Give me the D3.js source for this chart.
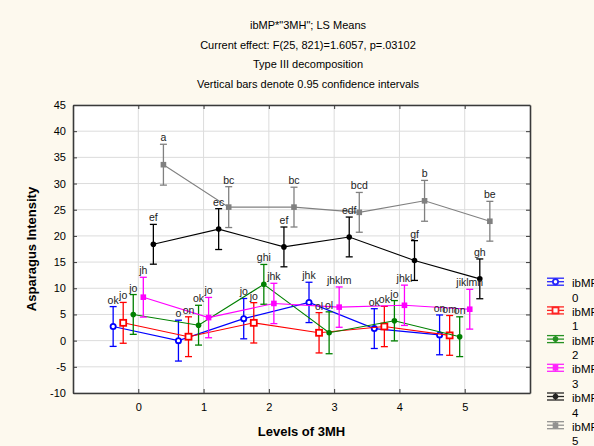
<!DOCTYPE html>
<html lang="en">
  <head>
    <meta charset="UTF-8" />
    <title>ibMP*3MH LS Means</title>
    <style>
      body {
        margin: 0;
        background-color: #fdf9ee;
      }
      svg {
        display: block;
        font-family: Arial, "Liberation Sans", sans-serif;
      }
    </style>
  </head>
  <body>
    <div id="chart"></div>

    <script src="https://d3js.org/d3.v7.min.js"></script>
    <script>
      // levels of 3MH on the x axis
      const levels = [0, 1, 2, 3, 4, 5];
      const seriesNames = ["0", "1", "2", "3", "4", "5"];
      const seriesColors = ["#0000ff", "#ff0000", "#008000", "#ff00ff", "#000000", "#808080"];
      const seriesShapes = ["circleOpen", "squareOpen", "circle", "square", "circle", "square"];

      // LS means per ibMP level
      const means = [
        [2.7, 0.0, 4.2, 7.3, 2.3, 1.1],
        [3.4, 0.75, 3.4, 1.5, 2.7, 1.0],
        [5.0, 2.95, 10.75, 1.5, 3.8, 0.75],
        [8.3, 4.4, 7.1, 6.4, 6.75, 6.0],
        [18.4, 21.3, 17.9, 19.8, 15.3, 11.8],
        [33.6, 25.5, 25.5, 24.5, 26.7, 22.8]
      ];

      // half width of the 0.95 confidence intervals
      const ciHalf = [
        [3.8, 3.9, 3.85, 3.85, 3.8, 3.8],
        [3.9, 3.8, 3.85, 3.85, 3.85, 3.8],
        [3.8, 3.8, 3.8, 4.0, 3.85, 3.8],
        [3.8, 3.85, 3.85, 3.85, 3.85, 3.8],
        [3.8, 3.9, 3.8, 3.8, 3.8, 3.8],
        [3.9, 3.9, 3.8, 3.8, 3.9, 3.8]
      ];

      // letters of the post hoc groups
      const letters = [
        ["ok", "o", "jo", "jhk", "ok", "on"],
        ["jo", "on", "jo", "ol", "ok", "om"],
        ["jo", "ok", "ghi", "ol", "jo", "on"],
        ["jh", "jo", "jhk", "jhklm", "jhkl", "jiklmn"],
        ["ef", "ec", "ef", "edf", "gf", "gh"],
        ["a", "bc", "bc", "bcd", "b", "be"]
      ];

      const yTicks = [-10, -5, 0, 5, 10, 15, 20, 25, 30, 35, 40, 45];
      const titleLines = [
        'ibMP*"3MH"; LS Means',
        "Current effect: F(25, 821)=1.6057, p=.03102",
        "Type III decomposition",
        "Vertical bars denote 0.95 confidence intervals"
      ];

      const width = 594;
      const height = 446;
      const plot = { left: 73, right: 530, top: 105, bottom: 393 };

      const svg = d3
        .select("#chart")
        .append("svg")
        .attr("width", width)
        .attr("height", height);

      svg.append("rect")
        .attr("width", width)
        .attr("height", height)
        .attr("fill", "#fdf9ee");

      const x = d3.scaleLinear().domain([-1, 6]).range([plot.left, plot.right]);
      const y = d3.scaleLinear().domain([-10, 45]).range([plot.bottom, plot.top]);

      // series are shifted a bit so the bars do not overlap
      const shift = (i) => (i - 2.5) * 0.154;

      svg.append("rect")
        .attr("x", plot.left)
        .attr("y", plot.top)
        .attr("width", plot.right - plot.left)
        .attr("height", plot.bottom - plot.top)
        .attr("fill", "#ffffff");

      // grid
      svg.append("g")
        .selectAll("line")
        .data(yTicks)
        .enter()
        .append("line")
        .attr("x1", plot.left)
        .attr("x2", plot.right)
        .attr("y1", (d) => y(d))
        .attr("y2", (d) => y(d))
        .attr("stroke", "#dcdcdc");

      svg.append("g")
        .selectAll("line")
        .data(levels)
        .enter()
        .append("line")
        .attr("x1", (d) => x(d))
        .attr("x2", (d) => x(d))
        .attr("y1", plot.top)
        .attr("y2", plot.bottom)
        .attr("stroke", "#dcdcdc");

      // axes with inner ticks
      const plain = (d) => String(d);
      const yAxis = svg.append("g")
        .attr("transform", "translate(" + plot.left + ",0)")
        .call(d3.axisLeft(y).tickValues(yTicks).tickFormat(plain).tickSizeInner(-4).tickSizeOuter(0).tickPadding(6));
      svg.append("g")
        .attr("transform", "translate(0," + plot.bottom + ")")
        .call(d3.axisBottom(x).tickValues(levels).tickFormat(plain).tickSizeInner(-4).tickSizeOuter(0).tickPadding(10));
      svg.append("g")
        .attr("transform", "translate(" + plot.right + ",0)")
        .call(d3.axisRight(y).tickValues(yTicks).tickSizeInner(-4).tickSizeOuter(0).tickFormat(""));
      svg.append("g")
        .attr("transform", "translate(0," + plot.top + ")")
        .call(d3.axisTop(x).tickValues(levels).tickSizeInner(-4).tickSizeOuter(0).tickFormat(""));

      svg.selectAll(".domain").attr("stroke", "#3a3a3a").attr("stroke-width", 1.6);
      svg.selectAll(".tick line").attr("stroke", "#3a3a3a");
      svg.selectAll(".tick text").attr("font-size", 11).attr("fill", "#000");
      yAxis.selectAll(".tick text").attr("dx", "-1");

      // series lines, error bars, markers, letters
      function drawMarker(g, shape, color, cx, cy) {
        if (shape === "circleOpen") {
          g.append("circle").attr("cx", cx).attr("cy", cy).attr("r", 2.6)
            .attr("fill", "#ffffff").attr("stroke", color).attr("stroke-width", 1.8);
        } else if (shape === "squareOpen") {
          g.append("rect").attr("x", cx - 3).attr("y", cy - 3).attr("width", 6).attr("height", 6)
            .attr("fill", "#ffffff").attr("stroke", color).attr("stroke-width", 1.8);
        } else if (shape === "circle") {
          g.append("circle").attr("cx", cx).attr("cy", cy).attr("r", 2.8).attr("fill", color);
        } else {
          g.append("rect").attr("x", cx - 2.8).attr("y", cy - 2.8).attr("width", 5.6).attr("height", 5.6)
            .attr("fill", color);
        }
      }

      const line = d3.line()
        .x((d) => x(d.level + d.off))
        .y((d) => y(d.mean));

      means.forEach((vals, i) => {
        const color = seriesColors[i];
        const pts = levels.map((lv, j) => ({
          level: lv,
          off: shift(i),
          mean: vals[j],
          lo: vals[j] - ciHalf[i][j],
          hi: vals[j] + ciHalf[i][j],
          label: letters[i][j]
        }));
        const g = svg.append("g");

        g.append("path")
          .datum(pts)
          .attr("d", line)
          .attr("fill", "none")
          .attr("stroke", color)
          .attr("stroke-width", 1.1);

        pts.forEach((p) => {
          const cx = x(p.level + p.off);
          g.append("line")
            .attr("x1", cx).attr("x2", cx)
            .attr("y1", y(p.lo)).attr("y2", y(p.hi))
            .attr("stroke", color).attr("stroke-width", 1.3);
          [p.lo, p.hi].forEach((v) => {
            g.append("line")
              .attr("x1", cx - 3.5).attr("x2", cx + 3.5)
              .attr("y1", y(v)).attr("y2", y(v))
              .attr("stroke", color).attr("stroke-width", 1.3);
          });
          drawMarker(g, seriesShapes[i], color, cx, y(p.mean));
        });
      });

      // letters on top of everything
      means.forEach((vals, i) => {
        svg.append("g")
          .selectAll("text")
          .data(levels)
          .enter()
          .append("text")
          .attr("x", (d) => x(d + shift(i)))
          .attr("y", (d, j) => y(vals[j] + ciHalf[i][j]) - 3)
          .attr("text-anchor", "middle")
          .attr("font-size", 10.5)
          .attr("fill", "#222")
          .text((d, j) => letters[i][j]);
      });

      // titles
      svg.append("g")
        .selectAll("text")
        .data(titleLines)
        .enter()
        .append("text")
        .attr("x", 308)
        .attr("y", (d, i) => 29 + i * 19.7)
        .attr("text-anchor", "middle")
        .attr("font-size", 11)
        .text((d) => d);

      svg.append("text")
        .attr("transform", "translate(36," + (plot.top + plot.bottom) / 2 + ") rotate(-90)")
        .attr("text-anchor", "middle")
        .attr("font-size", 13)
        .attr("font-weight", "bold")
        .text("Asparagus Intensity");

      svg.append("text")
        .attr("x", (plot.left + plot.right) / 2)
        .attr("y", 436)
        .attr("text-anchor", "middle")
        .attr("font-size", 13)
        .attr("font-weight", "bold")
        .text("Levels of 3MH");

      // legend
      const legend = svg.append("g");
      seriesNames.forEach((name, i) => {
        const ly = 281.7 + i * 28.7;
        const lg = legend.append("g").attr("opacity", 0.85);
        [ly - 3.5, ly, ly + 3.5].forEach((yy) => {
          lg.append("line")
            .attr("x1", 547).attr("x2", 564)
            .attr("y1", yy).attr("y2", yy)
            .attr("stroke", seriesColors[i]).attr("stroke-width", 1.3);
        });
        lg.append("line")
          .attr("x1", 555.5).attr("x2", 555.5)
          .attr("y1", ly - 3.5).attr("y2", ly + 3.5)
          .attr("stroke", seriesColors[i]).attr("stroke-width", 1.3);
        drawMarker(lg, seriesShapes[i], seriesColors[i], 555.5, ly);

        legend.append("text")
          .attr("x", 572)
          .attr("y", ly + 5.5)
          .attr("font-size", 11.5)
          .text("ibMP");
        legend.append("text")
          .attr("x", 572)
          .attr("y", ly + 20)
          .attr("font-size", 11.5)
          .text(name);
      });
    </script>
  </body>
</html>
